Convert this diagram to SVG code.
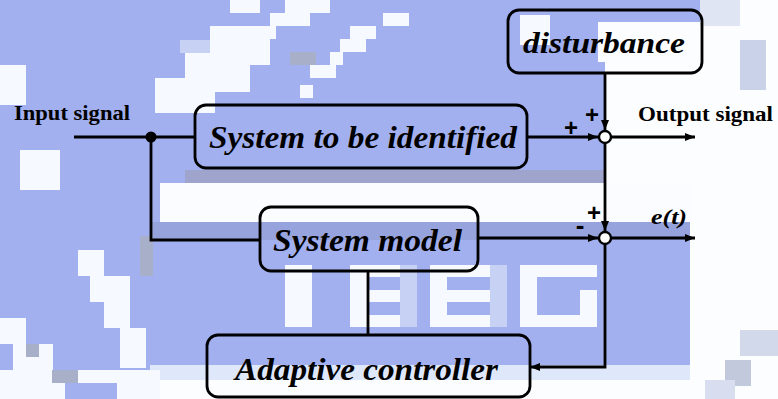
<svg xmlns="http://www.w3.org/2000/svg" width="778" height="399" viewBox="0 0 778 399">
  <style>
    .box { fill: none; stroke: #000; stroke-width: 2.8; }
    .wire { fill: none; stroke: #000; stroke-width: 2.8; }
    .lbl { font-family: "Liberation Serif", "DejaVu Serif", serif; font-weight: bold; font-style: italic; fill: #000; }
    .sig { font-family: "Liberation Serif", "DejaVu Serif", serif; font-weight: bold; fill: #000; }
    .pm { font-family: "Liberation Sans", "DejaVu Sans", sans-serif; font-weight: bold; fill: #000; }
    .b1 { fill: #a2b0ef; }
    .b2 { fill: #97a3dc; }
    .w { fill: #f6f9ff; }
    .l { fill: #c7d1f3; }
    .g { fill: #a8afc8; }
  </style>
  <defs>
    <marker id="arr" viewBox="0 0 10 8" refX="10" refY="4" markerWidth="11" markerHeight="8" markerUnits="userSpaceOnUse" orient="auto">
      <path d="M0,0 L10,4 L0,8 Z" fill="#000"/>
    </marker>
  </defs>

  <!-- mosaic backdrop -->
  <g id="backdrop">
    <rect width="778" height="399" fill="#fcfdff"/>
    <rect x="0" y="0" width="700" height="62" class="b1"/>
    <rect x="0" y="62" width="605" height="121" class="b1"/>
    <rect x="185" y="170" width="440" height="13" fill="#9ea4cc"/>
    <rect x="0" y="183" width="160" height="217" class="b1"/>
    <rect x="150" y="222" width="540" height="18" class="b2"/>
    <rect x="150" y="240" width="540" height="125" class="b1"/>
    <rect x="150" y="365" width="540" height="15" fill="#dfe7fb"/>
    <!-- top streak -->
    <rect x="285" y="0" width="45" height="13" class="w"/>
    <rect x="270" y="13" width="40" height="13" class="w"/>
    <rect x="250" y="26" width="26" height="13" class="w"/>
    <rect x="383" y="13" width="26" height="13" class="w"/>
    <rect x="350" y="26" width="26" height="13" class="w"/>
    <rect x="250" y="39" width="20" height="26" class="w"/>
    <rect x="340" y="39" width="26" height="13" class="w"/>
    <rect x="330" y="52" width="13" height="13" class="w"/>
    <rect x="310" y="65" width="26" height="13" class="w"/>
    <rect x="300" y="85" width="13" height="13" class="w"/>
    <rect x="290" y="52" width="26" height="13" class="g"/>
    <rect x="230" y="0" width="30" height="13" class="w"/>
    <rect x="210" y="26" width="40" height="39" class="w"/>
    <rect x="185" y="52" width="65" height="40" class="w"/>
    <rect x="155" y="78" width="60" height="35" class="w"/>
    <rect x="180" y="40" width="30" height="13" class="l"/>
    <rect x="0" y="65" width="26" height="40" class="w"/>
    <rect x="20" y="150" width="40" height="40" class="w"/>
    <rect x="520" y="15" width="30" height="30" class="w"/>
    <rect x="598" y="22" width="107" height="40" fill="#fcfdff"/>
    <rect x="605" y="60" width="100" height="123" fill="#fcfdff"/>
    <rect x="160" y="183" width="530" height="39" fill="#fafcff"/>
    <rect x="700" y="0" width="78" height="399" fill="#fcfdff"/>
    <rect x="740" y="40" width="26" height="50" fill="#c9d2e8"/>
    <rect x="700" y="0" width="40" height="26" fill="#dfe5f3"/>
    <!-- faint block letters -->
    <rect x="285" y="265" width="27" height="62" class="w"/>
    <rect x="350" y="265" width="17" height="62" class="w"/>
    <rect x="367" y="265" width="48" height="12" class="w"/>
    <rect x="367" y="290" width="48" height="12" class="w"/>
    <rect x="367" y="315" width="48" height="12" class="w"/>
    <rect x="400" y="265" width="17" height="62" class="l"/>
    <rect x="430" y="265" width="17" height="62" class="w"/>
    <rect x="447" y="265" width="55" height="12" class="w"/>
    <rect x="447" y="290" width="55" height="12" class="w"/>
    <rect x="447" y="315" width="55" height="12" class="w"/>
    <rect x="490" y="265" width="17" height="62" class="l"/>
    <rect x="520" y="265" width="17" height="62" class="w"/>
    <rect x="537" y="265" width="60" height="12" class="w"/>
    <rect x="537" y="315" width="60" height="12" class="w"/>
    <rect x="580" y="290" width="17" height="30" class="w"/>
    <!-- lower-left scatter -->
    <rect x="78" y="250" width="26" height="26" class="w"/>
    <rect x="90" y="276" width="40" height="26" class="w"/>
    <rect x="104" y="302" width="26" height="26" class="w"/>
    <rect x="120" y="328" width="26" height="40" class="w"/>
    <rect x="0" y="318" width="26" height="26" class="w"/>
    <rect x="13" y="344" width="40" height="26" class="w"/>
    <rect x="0" y="370" width="160" height="29" class="w"/>
    <rect x="52" y="370" width="26" height="13" class="g"/>
    <rect x="65" y="383" width="52" height="16" class="b1"/>
    <rect x="26" y="344" width="13" height="13" class="g"/>
    <rect x="140" y="236" width="13" height="40" class="g"/>
    <!-- lower-right scatter -->
    <rect x="740" y="330" width="38" height="26" fill="#d2d9ea"/>
    <rect x="725" y="360" width="26" height="26" fill="#c2c9dc"/>
    <rect x="705" y="380" width="30" height="19" fill="#d8def0"/>
  </g>

  <!-- connectors -->
  <g id="connectors">
    <path class="wire" d="M74,137 H195"/>
    <path class="wire" d="M151,137 V240 H260"/>
    <path class="wire" d="M527,137 H598" marker-end="url(#arr)"/>
    <path class="wire" d="M605,73 V130" marker-end="url(#arr)"/>
    <path class="wire" d="M611,137 H695" marker-end="url(#arr)"/>
    <path class="wire" d="M605,143 V231" marker-end="url(#arr)"/>
    <path class="wire" d="M478,238 H598" marker-end="url(#arr)"/>
    <path class="wire" d="M611,238 H695" marker-end="url(#arr)"/>
    <path class="wire" d="M605,244 V367 H530" marker-end="url(#arr)"/>
    <path class="wire" d="M368,271 V335"/>
    <circle cx="151" cy="137" r="5.5" fill="#000"/>
  </g>

  <g id="sum1">
    <circle cx="605" cy="137" r="6" fill="#fff" stroke="#000" stroke-width="2.4"/>
    <text class="pm" x="571" y="136" font-size="24" text-anchor="middle">+</text>
    <text class="pm" x="592" y="123" font-size="24" text-anchor="middle">+</text>
  </g>
  <g id="sum2">
    <circle cx="605" cy="238" r="6" fill="#fff" stroke="#000" stroke-width="2.4"/>
    <text class="pm" x="594" y="221" font-size="24" text-anchor="middle">+</text>
    <text class="pm" x="580" y="234" font-size="26" text-anchor="middle">-</text>
  </g>

  <g id="input-label">
    <text class="sig" x="14" y="120" font-size="20" textLength="116" lengthAdjust="spacingAndGlyphs">Input signal</text>
  </g>
  <g id="output-label">
    <text class="sig" x="638" y="121" font-size="20" textLength="135" lengthAdjust="spacingAndGlyphs">Output signal</text>
  </g>
  <g id="error-label">
    <text class="lbl" x="651" y="224" font-size="21" textLength="36" lengthAdjust="spacingAndGlyphs">e(t)</text>
  </g>

  <g id="plant">
    <rect class="box" x="195" y="105" width="332" height="63" rx="11"/>
    <text class="lbl" x="209" y="148" font-size="32" textLength="308" lengthAdjust="spacingAndGlyphs">System to be identified</text>
  </g>
  <g id="disturbance">
    <rect class="box" x="508" y="10" width="194" height="63" rx="11"/>
    <text class="lbl" x="523" y="53" font-size="30" textLength="162" lengthAdjust="spacingAndGlyphs">disturbance</text>
  </g>
  <g id="model">
    <rect class="box" x="260" y="207" width="218" height="64" rx="11"/>
    <text class="lbl" x="273" y="251" font-size="31" textLength="189" lengthAdjust="spacingAndGlyphs">System model</text>
  </g>
  <g id="controller">
    <rect class="box" x="207" y="335" width="323" height="62" rx="11"/>
    <text class="lbl" x="235" y="380" font-size="31" textLength="263" lengthAdjust="spacingAndGlyphs">Adaptive controller</text>
  </g>
</svg>
